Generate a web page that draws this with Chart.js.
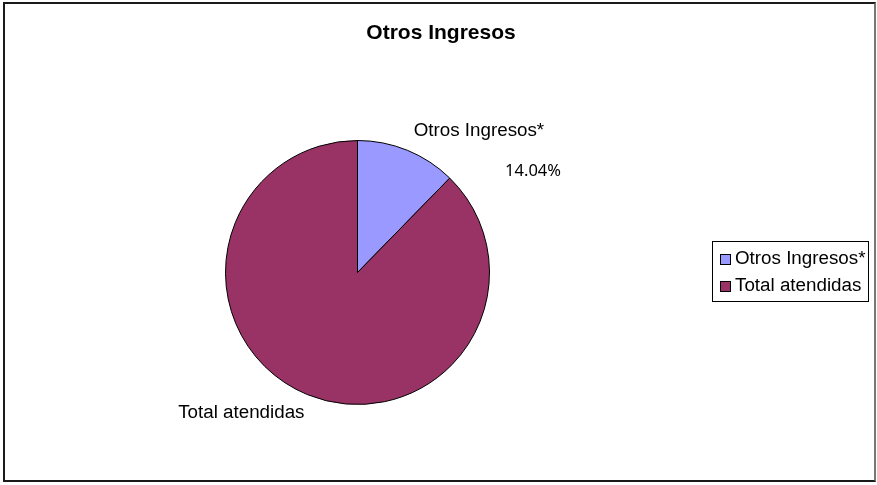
<!DOCTYPE html>
<html>
<head>
<meta charset="utf-8">
<script src="https://cdn.jsdelivr.net/npm/chart.js@4/dist/chart.umd.min.js"></script>
<style>
  html, body { margin: 0; padding: 0; background: #fff; }
  #wrap { position: absolute; left: 3px; top: 2px; width: 869px; height: 476px;
          border: 2px solid #1a1a1a; border-right-color: #777; }
  canvas { position: absolute; left: -5px; top: -4px; }
</style>
</head>
<body>
<div id="wrap"><canvas id="chart" width="877" height="485"></canvas></div>
<script>
// datos
let categorias = ["Otros Ingresos*", "Total atendidas"];
let valores = [14.04, 100];
let colores = ["#9999FF", "#993366"];
let etiquetaValor = ["14.04%", ""];
let titulo = "Otros Ingresos";

// dibuja titulo, etiquetas y leyenda encima del pastel
let textos = {
  id: "textos",
  afterDraw(chart) {
    let ctx = chart.ctx;
    let arcs = chart.getDatasetMeta(0).data;
    let cx = arcs[0].x, cy = arcs[0].y, r = arcs[0].outerRadius;

    ctx.save();
    ctx.fillStyle = "#000";
    ctx.textAlign = "center";
    ctx.textBaseline = "middle";
    ctx.font = "bold 21px 'Liberation Sans', Arial, sans-serif";
    ctx.fillText(titulo, 441, 33);

    ctx.font = "18.8px 'Liberation Sans', Arial, sans-serif";
    ctx.fillText(categorias[0], cx + r * 0.92, cy - r * 1.07);
    ctx.fillText(categorias[1], cx - r * 0.88, cy + r * 1.06);

    ctx.font = "16.5px 'Noto Sans', sans-serif";
    ctx.fillText(etiquetaValor[0], cx + r * 1.33, cy - r * 0.77);

    // leyenda
    let lx = 712, ly = 241, lw = 156, lh = 60;
    ctx.strokeStyle = "#000";
    ctx.lineWidth = 1;
    ctx.strokeRect(lx + 0.5, ly + 0.5, lw, lh);
    ctx.textAlign = "left";
    ctx.font = "18.8px 'Liberation Sans', Arial, sans-serif";
    categorias.forEach((c, i) => {
      let y = ly + 18 + i * 27;
      ctx.fillStyle = colores[i];
      ctx.fillRect(lx + 8, y - 5, 10, 10);
      ctx.strokeRect(lx + 8.5, y - 4.5, 10, 10);
      ctx.fillStyle = "#000";
      ctx.fillText(c, lx + 23, y);
    });
    ctx.restore();
  }
};

let ctx = document.getElementById("chart").getContext("2d");
let chart = new Chart(ctx, {
  type: "pie",
  data: {
    labels: categorias,
    datasets: [{
      data: valores,
      backgroundColor: colores,
      borderColor: "#000",
      borderWidth: 1
    }]
  },
  options: {
    responsive: false,
    animation: false,
    layout: { padding: { left: 225, right: 387, top: 140, bottom: 80 } },
    plugins: { legend: { display: false }, tooltip: { enabled: false } }
  },
  plugins: [textos]
});
</script>
</body>
</html>
